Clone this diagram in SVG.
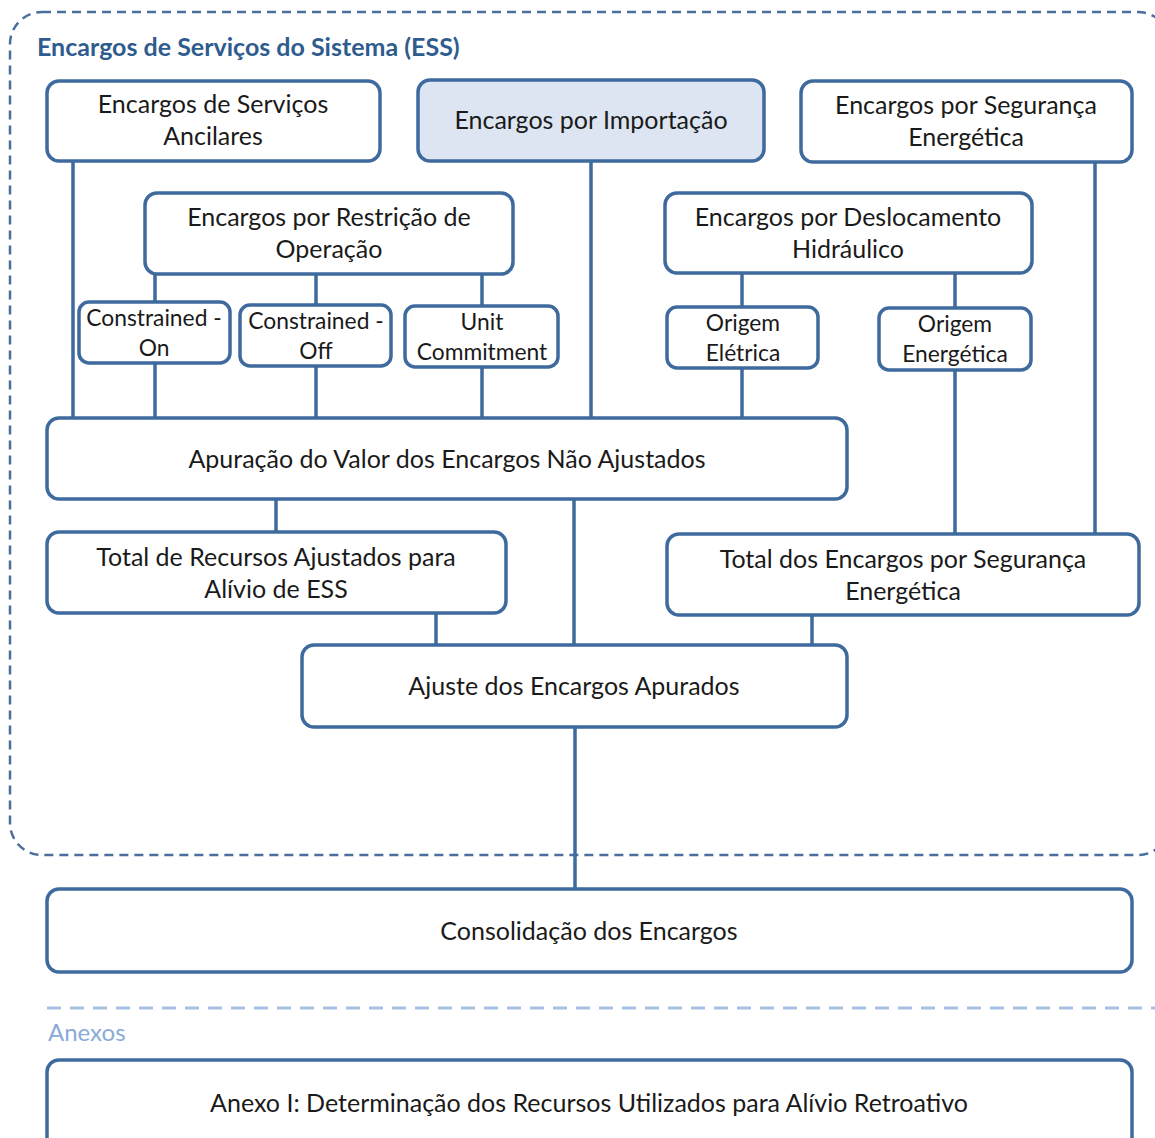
<svg xmlns="http://www.w3.org/2000/svg" width="1155" height="1138" viewBox="0 0 1155 1138">
<style>
.box{fill:#fff;stroke:#3E6A9D;stroke-width:3.5}
.hl{fill:#DCE5F1}
.t{font-family:Lato,"Liberation Sans",sans-serif;font-size:25px;fill:#1a1a1a;text-anchor:middle;dominant-baseline:central}
.s{font-size:22.8px}
.c{stroke:#3E6A9D;stroke-width:3.5;fill:none}
</style>
<rect width="1155" height="1138" fill="#fff"/>
<rect x="10" y="12" width="1160" height="843" rx="32" fill="none" stroke="#4A6F9C" stroke-width="2.5" stroke-dasharray="9 6"/>
<text x="37" y="46" style="font-family:Lato,'Liberation Sans',sans-serif;font-weight:bold;font-size:25px;fill:#2F5C8E;dominant-baseline:central">Encargos de Serviços do Sistema (ESS)</text>
<line x1="47" y1="1008" x2="1155" y2="1008" stroke="#A8C0E2" stroke-width="3" stroke-dasharray="14 9"/>
<text x="48" y="1031" style="font-family:Lato,'Liberation Sans',sans-serif;font-size:24px;fill:#8AABD8;dominant-baseline:central">Anexos</text>
<g id="connectors">
<path class="c" d="M73 161V418M591 161V418M1095 162V534M155 274V302M316 274V305M482 274V306M155 363V418M316 366V418M482 367V418M742 273V307M955 273V308M742 368V418M955 370V534M276 499V532M574 499V645M436 613V645M812 615V645M575 727V889"/>
</g>
<g id="n1"><rect class="box" x="47" y="81" width="333" height="80" rx="12"/><text class="t" x="213" y="103">Encargos de Serviços</text><text class="t" x="213" y="135">Ancilares</text></g>
<g id="n2"><rect class="box hl" x="418" y="80" width="346" height="81" rx="12"/><text class="t" x="591" y="119">Encargos por Importação</text></g>
<g id="n3"><rect class="box" x="801" y="81" width="331" height="81" rx="12"/><text class="t" x="966" y="104">Encargos por Segurança</text><text class="t" x="966" y="136">Energética</text></g>
<g id="n4"><rect class="box" x="145" y="193" width="368" height="81" rx="12"/><text class="t" x="329" y="216">Encargos por Restrição de</text><text class="t" x="329" y="248">Operação</text></g>
<g id="n5"><rect class="box" x="665" y="193" width="367" height="80" rx="12"/><text class="t" x="848" y="216">Encargos por Deslocamento</text><text class="t" x="848" y="248">Hidráulico</text></g>
<g id="n6"><rect class="box" x="79" y="302" width="151" height="61" rx="10"/><text class="t s" x="154" y="317">Constrained -</text><text class="t s" x="154" y="347">On</text></g>
<g id="n7"><rect class="box" x="240" y="305" width="151" height="61" rx="10"/><text class="t s" x="316" y="320">Constrained -</text><text class="t s" x="316" y="350">Off</text></g>
<g id="n8"><rect class="box" x="405" y="306" width="153" height="61" rx="10"/><text class="t s" x="482" y="321">Unit</text><text class="t s" x="482" y="351">Commitment</text></g>
<g id="n9"><rect class="box" x="667" y="307" width="151" height="61" rx="10"/><text class="t s" x="743" y="322">Origem</text><text class="t s" x="743" y="352">Elétrica</text></g>
<g id="n10"><rect class="box" x="879" y="308" width="152" height="62" rx="10"/><text class="t s" x="955" y="323">Origem</text><text class="t s" x="955" y="353">Energética</text></g>
<g id="n11"><rect class="box" x="47" y="418" width="800" height="81" rx="12"/><text class="t" x="447" y="458">Apuração do Valor dos Encargos Não Ajustados</text></g>
<g id="n12"><rect class="box" x="47" y="532" width="459" height="81" rx="12"/><text class="t" x="276" y="556">Total de Recursos Ajustados para</text><text class="t" x="276" y="588">Alívio de ESS</text></g>
<g id="n13"><rect class="box" x="667" y="534" width="472" height="81" rx="12"/><text class="t" x="903" y="558">Total dos Encargos por Segurança</text><text class="t" x="903" y="590">Energética</text></g>
<g id="n14"><rect class="box" x="302" y="645" width="545" height="82" rx="12"/><text class="t" x="574" y="685">Ajuste dos Encargos Apurados</text></g>
<g id="n15"><rect class="box" x="47" y="889" width="1085" height="83" rx="12"/><text class="t" x="589" y="930">Consolidação dos Encargos</text></g>
<g id="n16"><rect class="box" x="47" y="1060" width="1085" height="100" rx="12"/><text class="t" x="589" y="1102">Anexo I: Determinação dos Recursos Utilizados para Alívio Retroativo</text></g>
</svg>
